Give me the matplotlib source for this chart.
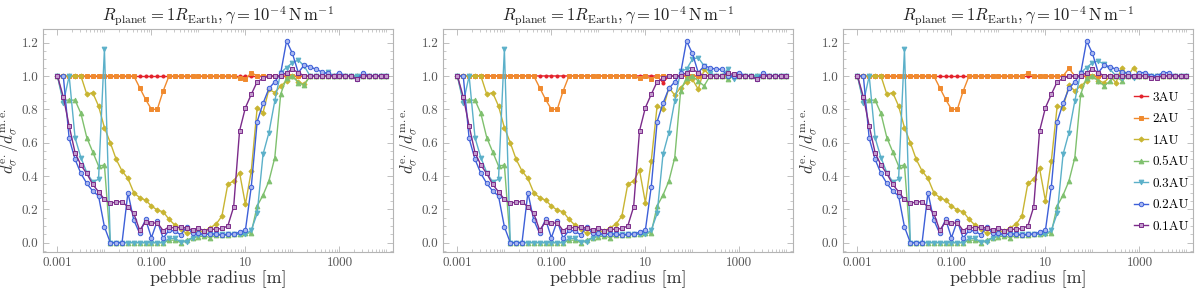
import numpy as np
import matplotlib
matplotlib.use("Agg")
import matplotlib.pyplot as plt
from matplotlib.ticker import FixedLocator, NullFormatter

plt.rcParams['font.family'] = 'serif'
plt.rcParams['font.serif'] = ['cmr10']
plt.rcParams['mathtext.fontset'] = 'cm'
plt.rcParams['axes.formatter.use_mathtext'] = True

# pebble radii: sampled 8 per decade from 1 mm to 10 km
radius = np.logspace(-3, 4, 57)

labels = ["3AU", "2AU", "1AU", "0.5AU", "0.3AU", "0.2AU", "0.1AU"]
colors = ["#e3222b", "#f08a2e", "#c8b532", "#7fc06e", "#5bb0c9", "#3d5fd8", "#7b2b8a"]
faces = ["#e3222b", "#f08a2e", "#c8b532", "#7fc06e", "#5bb0c9", "#a9b8f0", "#c29ccc"]
markers = ["o", "s", "D", "^", "v", "o", "s"]
msizes = [2.2, 3.0, 2.6, 3.4, 3.4, 3.2, 3.0]

# ---- panel 1 values ----
red_1 = [1.0] * 57
orange_1 = [1.0] * 14 + [0.93, 0.86, 0.80, 0.80, 0.91] + [1.0] * 12 + [0.985, 0.98, 1.02] + [1.0] * 23
yellow_1 = [1.0] * 5 + [0.89, 0.90, 0.82, 0.69, 0.60, 0.50, 0.43, 0.385, 0.30, 0.27, 0.255, 0.22,
                        0.195, 0.185, 0.14, 0.105, 0.08, 0.055, 0.06, 0.065, 0.07, 0.09, 0.11, 0.16,
                        0.35, 0.37, 0.42, 0.23, 0.43, 0.81, 0.78, 0.92, 0.90, 0.94, 0.97, 1.0,
                        0.965, 0.95] + [1.0] * 14
green_1 = [1.0, 0.855, 0.855, 0.855, 0.775, 0.63, 0.545, 0.46, 0.465] + [0.0] * 10 + \
          [0.015, 0.015, 0.0, 0.015, 0.03, 0.035, 0.04, 0.03, 0.045, 0.045, 0.045, 0.05, 0.05,
           0.055, 0.06, 0.22, 0.285, 0.37, 0.51, 0.89, 0.99, 1.0, 0.96, 0.945] + [1.0] * 14
cyan_1 = [1.0, 0.84, 1.0, 0.63, 0.51, 0.42, 0.365, 0.38, 1.16] + [0.0] * 9 + \
         [0.0, 0.025, 0.025, 0.005, 0.005, 0.03, 0.045, 0.05, 0.05, 0.05, 0.05, 0.05, 0.05, 0.05,
          0.05, 0.075, 0.175, 0.53, 0.66, 0.85, 1.02, 1.05, 1.08, 1.095, 1.06, 1.0, 1.0, 1.0,
          1.025] + [1.0] * 10
blue_1 = [1.0, 1.0, 0.625, 0.50, 0.415, 0.355, 0.31, 0.28, 0.095, 0.0, 0.0, 0.0, 0.30, 0.135,
          0.056, 0.14, 0.03, 0.13, 0.026, 0.075, 0.07, 0.046, 0.095, 0.055, 0.055, 0.05, 0.052,
          0.052, 0.046, 0.05, 0.052, 0.062, 0.075, 0.336, 0.726, 0.836, 0.925, 0.965, 1.016,
          1.21, 1.135, 1.02, 1.065, 1.055, 1.04, 1.025, 1.015, 1.0, 1.02, 1.0, 1.0, 0.98,
          1.02] + [1.0] * 4
purple_1 = [1.0, 0.875, 0.70, 0.54, 0.465, 0.415, 0.35, 0.305, 0.26, 0.235, 0.245, 0.245, 0.215,
            0.175, 0.075, 0.125, 0.115, 0.12, 0.072, 0.095, 0.086, 0.095, 0.086, 0.076, 0.086,
            0.072, 0.08, 0.08, 0.085, 0.10, 0.215, 0.67, 0.81, 0.89, 0.965, 0.985] + \
           [1.0] * 3 + [1.02, 1.04, 1.02] + [1.0] * 9 + [0.98] + [1.0] * 5


def patch(base, changes):
    out = list(base)
    for k, v in changes.items():
        out[k] = v
    return out


# ---- panel 2 values (differences from panel 1) ----
red_2 = patch(red_1, {35: 0.96})
orange_2 = patch(orange_1, {32: 1.0, 33: 0.98})
yellow_2 = patch(yellow_1, {31: 0.435, 32: 0.24, 33: 0.49, 34: 0.82, 35: 0.80, 36: 0.93,
                            37: 0.885, 38: 0.93, 39: 0.965, 40: 0.98, 41: 0.92, 42: 1.04})
green_2 = patch(green_1, {38: 0.91, 41: 0.97, 42: 0.94, 46: 0.98})
cyan_2 = patch(cyan_1, {38: 1.03, 39: 1.04, 40: 1.10, 41: 1.11, 42: 1.06, 43: 1.02, 46: 1.04,
                        47: 0.98})
blue_2 = patch(blue_1, {42: 1.06, 43: 1.05, 44: 1.04, 45: 1.04, 46: 1.0})
purple_2 = patch(purple_1, {46: 1.015, 47: 1.01})

# ---- panel 3 values (differences from panel 1) ----
red_3 = list(red_1)
orange_3 = patch(orange_1, {29: 1.015, 31: 1.0, 32: 1.0, 33: 1.0, 36: 1.045})
yellow_3 = patch(yellow_1, {29: 0.355, 30: 0.38, 31: 0.445, 32: 0.25, 33: 0.49, 34: 0.82,
                            35: 0.81, 36: 0.945, 37: 0.91, 41: 0.97, 42: 0.96, 44: 0.96,
                            45: 1.05, 47: 1.05})
green_3 = patch(green_1, {41: 0.97, 42: 0.94, 43: 0.97, 45: 0.97})
cyan_3 = patch(cyan_1, {40: 1.08, 41: 1.09, 42: 1.07, 43: 1.04, 45: 0.985, 46: 1.0, 47: 0.985})
blue_3 = patch(blue_1, {48: 1.02, 49: 1.02, 51: 1.0, 52: 1.02, 53: 1.02})
purple_3 = patch(purple_1, {50: 0.99, 51: 0.99})

panels = [
    [red_1, orange_1, yellow_1, green_1, cyan_1, blue_1, purple_1],
    [red_2, orange_2, yellow_2, green_2, cyan_2, blue_2, purple_2],
    [red_3, orange_3, yellow_3, green_3, cyan_3, blue_3, purple_3],
]

title = r"$R_{\rm planet} = 1 R_{\rm Earth}, \gamma = 10^{-4}\,{\rm N\,m^{-1}}$"

fig = plt.figure(figsize=(12, 2.9), dpi=100)
lefts = [0.0361, 0.3694, 0.7028]
frame = "#b4b4b4"

for p, series in enumerate(panels):
    ax = fig.add_axes([lefts[p], 0.130, 0.2914, 0.769])
    for j, vals in enumerate(series):
        ax.plot(radius, vals, color=colors[j], marker=markers[j], ms=msizes[j],
                mfc=faces[j], mec=colors[j], mew=0.7, lw=1.0, label=labels[j])
    ax.set_xscale("log")
    ax.set_xlim(10 ** -3.30, 10 ** 4.14)
    ax.set_ylim(-0.058, 1.28)

    ax.xaxis.set_major_locator(FixedLocator([1e-3, 1e-1, 1e1, 1e3]))
    ax.set_xticklabels(["0.001", "0.100", "10", "1000"])
    minor = [m * 10.0 ** e for e in range(-3, 5) for m in range(1, 10)]
    ax.xaxis.set_minor_locator(FixedLocator(minor))
    ax.xaxis.set_minor_formatter(NullFormatter())
    ax.set_yticks([0.0, 0.2, 0.4, 0.6, 0.8, 1.0, 1.2])
    ax.set_yticklabels(["0.0", "0.2", "0.4", "0.6", "0.8", "1.0", "1.2"])
    ax.set_yticks(np.arange(-0.05, 1.28, 0.05), minor=True)

    ax.tick_params(which="both", direction="in", top=True, right=True, colors=frame,
                   labelcolor="#555555", labelsize=9.5)
    ax.tick_params(which="major", length=4, width=0.6)
    ax.tick_params(which="minor", length=2, width=0.5)
    for s in ax.spines.values():
        s.set_color(frame)
        s.set_linewidth(0.8)

    ax.set_title(title, fontsize=12, color="#222222", pad=6)
    ax.set_xlabel("pebble radius [m]", fontsize=13, color="#333333", labelpad=1)
    ax.set_ylabel(r"$d_\sigma^{\rm e.}/d_\sigma^{\rm m.e.}$", fontsize=12, color="#333333",
                  labelpad=1)

    if p == 2:
        ax.legend(loc="upper left", bbox_to_anchor=(0.83, 0.72), frameon=False,
                  fontsize=9.5, handlelength=1.1, handletextpad=0.35, labelspacing=0.7,
                  borderpad=0, borderaxespad=0)

fig.savefig("out.png", dpi=100)
